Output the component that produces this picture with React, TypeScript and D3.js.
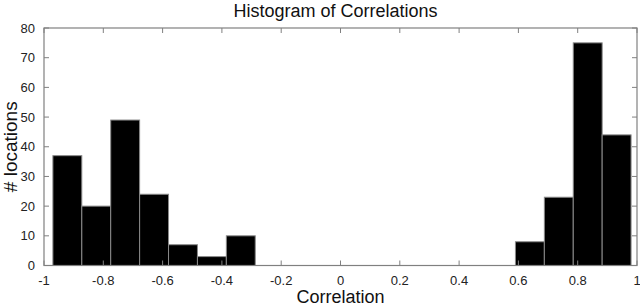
import React from "react";
import * as d3 from "d3";

const binEdgesStart = -0.97;
const binEdgesEnd = 0.98;
const counts = [37, 20, 49, 24, 7, 3, 10, 0, 0, 0, 0, 0, 0, 0, 0, 0, 8, 23, 75, 44];
const xTicks = [-1, -0.8, -0.6, -0.4, -0.2, 0, 0.2, 0.4, 0.6, 0.8, 1];
const yTicks = [0, 10, 20, 30, 40, 50, 60, 70, 80];
const title = "Histogram of Correlations";
const xLabel = "Correlation";
const yLabel = "# locations";

export default function App() {
  const W = 640, H = 306;
  const left = 44, right = 637, top = 28, bottom = 265.5;
  const x = d3.scaleLinear().domain([-1, 1]).range([left, right]);
  const y = d3.scaleLinear().domain([0, 80]).range([bottom, top]);
  const n = counts.length;
  const w = (binEdgesEnd - binEdgesStart) / n;
  const axisColor = "#808080";
  const font = "Arial, 'Liberation Sans', sans-serif";
  return (
    <svg width={W} height={H} style={{ position: "absolute", left: 0, top: 0, background: "#fff" }}>
      <rect x={0} y={0} width={W} height={H} fill="#fff" />
      {counts.map((c, i) =>
        c > 0 ? (
          <rect
            key={i}
            x={x(binEdgesStart + i * w)}
            y={y(c)}
            width={x(binEdgesStart + (i + 1) * w) - x(binEdgesStart + i * w)}
            height={y(0) - y(c)}
            fill="#000"
            stroke="#8a8a8a"
            strokeWidth={1}
          />
        ) : null
      )}
      <rect x={left} y={top} width={right - left} height={bottom - top} fill="none" stroke={axisColor} strokeWidth={1.2} />
      {xTicks.map((t) => (
        <g key={"x" + t}>
          <line x1={x(t)} x2={x(t)} y1={bottom} y2={bottom - 5} stroke={axisColor} />
          <line x1={x(t)} x2={x(t)} y1={top} y2={top + 5} stroke={axisColor} />
          <text x={x(t)} y={285} textAnchor="middle" fontFamily={font} fontSize={13} fill="#222">
            {String(t)}
          </text>
        </g>
      ))}
      {yTicks.map((t) => (
        <g key={"y" + t}>
          <line x1={left} x2={left + 5} y1={y(t)} y2={y(t)} stroke={axisColor} />
          <line x1={right} x2={right - 5} y1={y(t)} y2={y(t)} stroke={axisColor} />
          <text x={35} y={y(t) + 4.5} textAnchor="end" fontFamily={font} fontSize={13} fill="#222">
            {t}
          </text>
        </g>
      ))}
      <text x={(left + right) / 2 - 5} y={17} textAnchor="middle" fontFamily={font} fontSize={18} fill="#111">
        {title}
      </text>
      <text x={(left + right) / 2} y={303} textAnchor="middle" fontFamily={font} fontSize={18} fill="#111">
        {xLabel}
      </text>
      <text
        transform={`translate(17, ${(top + bottom) / 2}) rotate(-90)`}
        textAnchor="middle"
        fontFamily={font}
        fontSize={19}
        fill="#111"
      >
        {yLabel}
      </text>
    </svg>
  );
}
